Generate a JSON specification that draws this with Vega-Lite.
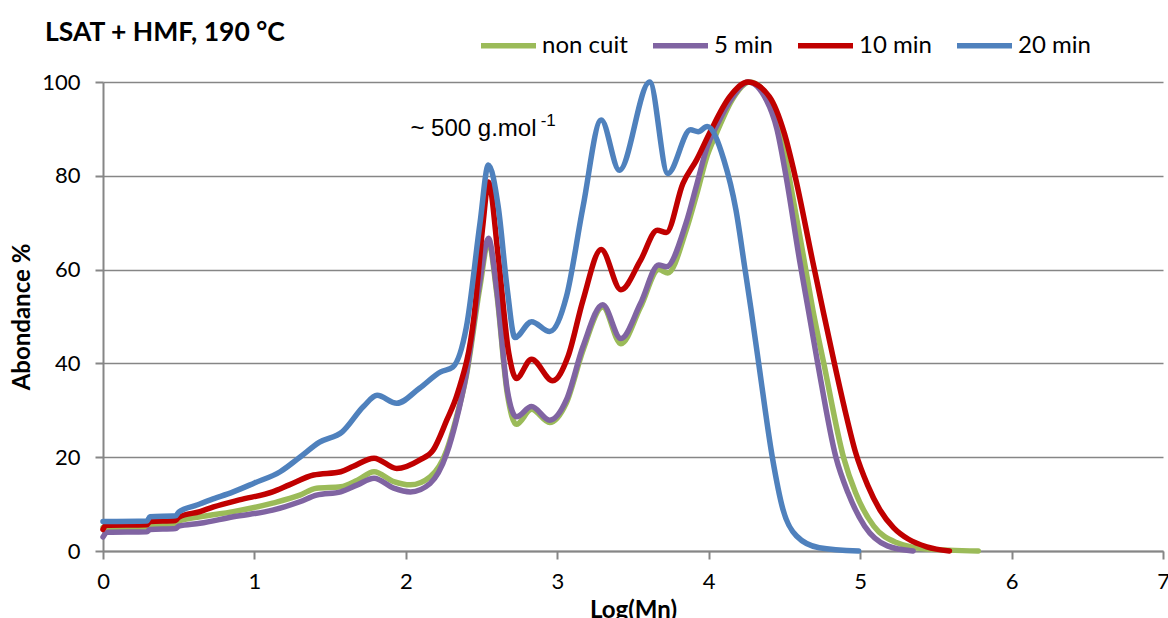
{
  "$schema": "https://vega.github.io/schema/vega-lite/v6.json",
  "width": 1060,
  "height": 469,
  "autosize": {"type": "none"},
  "padding": {"left": 103, "top": 82, "right": 5, "bottom": 67},
  "background": "white",
  "config": {"view": {"stroke": null}, "font": "Lato"},
  "title": {"text": "LSAT + HMF, 190 °C", "anchor": "start", "frame": "group", "dx": -58, "offset": 4, "dy": 35, "fontSize": 26.5, "font": "Lato", "fontWeight": "bold", "color": "black"},
  "datasets": {
    "curves": [
      {"s": "non cuit", "x": 0, "y": 5.0}, {"s": "non cuit", "x": 0.29, "y": 5.1}, {"s": "non cuit", "x": 0.31, "y": 5.6}, {"s": "non cuit", "x": 0.48, "y": 5.8}, {"s": "non cuit", "x": 0.5, "y": 6.4}, {"s": "non cuit", "x": 0.64, "y": 7.3}, {"s": "non cuit", "x": 0.86, "y": 8.4}, {"s": "non cuit", "x": 1.12, "y": 10.2}, {"s": "non cuit", "x": 1.3, "y": 11.9}, {"s": "non cuit", "x": 1.41, "y": 13.4}, {"s": "non cuit", "x": 1.57, "y": 13.7}, {"s": "non cuit", "x": 1.68, "y": 15.1}, {"s": "non cuit", "x": 1.79, "y": 16.9}, {"s": "non cuit", "x": 1.92, "y": 14.8}, {"s": "non cuit", "x": 2.03, "y": 14.1}, {"s": "non cuit", "x": 2.16, "y": 15.8}, {"s": "non cuit", "x": 2.27, "y": 21.5}, {"s": "non cuit", "x": 2.33, "y": 28}, {"s": "non cuit", "x": 2.4, "y": 37.5}, {"s": "non cuit", "x": 2.49, "y": 56.5}, {"s": "non cuit", "x": 2.545, "y": 66}, {"s": "non cuit", "x": 2.6, "y": 55}, {"s": "non cuit", "x": 2.67, "y": 33.5}, {"s": "non cuit", "x": 2.73, "y": 27}, {"s": "non cuit", "x": 2.83, "y": 30.2}, {"s": "non cuit", "x": 2.95, "y": 27.4}, {"s": "non cuit", "x": 3.06, "y": 31.6}, {"s": "non cuit", "x": 3.17, "y": 42.8}, {"s": "non cuit", "x": 3.3, "y": 52}, {"s": "non cuit", "x": 3.42, "y": 44.2}, {"s": "non cuit", "x": 3.55, "y": 52}, {"s": "non cuit", "x": 3.67, "y": 60}, {"s": "non cuit", "x": 3.73, "y": 59.3}, {"s": "non cuit", "x": 3.85, "y": 68.3}, {"s": "non cuit", "x": 3.92, "y": 76}, {"s": "non cuit", "x": 3.99, "y": 84.3}, {"s": "non cuit", "x": 4.05, "y": 89}, {"s": "non cuit", "x": 4.16, "y": 96.5}, {"s": "non cuit", "x": 4.27, "y": 100}, {"s": "non cuit", "x": 4.4, "y": 96.3}, {"s": "non cuit", "x": 4.47, "y": 90}, {"s": "non cuit", "x": 4.53, "y": 80}, {"s": "non cuit", "x": 4.63, "y": 62}, {"s": "non cuit", "x": 4.69, "y": 51}, {"s": "non cuit", "x": 4.76, "y": 40}, {"s": "non cuit", "x": 4.89, "y": 20}, {"s": "non cuit", "x": 4.97, "y": 12.4}, {"s": "non cuit", "x": 5.09, "y": 5.3}, {"s": "non cuit", "x": 5.24, "y": 1.8}, {"s": "non cuit", "x": 5.44, "y": 0.4}, {"s": "non cuit", "x": 5.78, "y": 0},

      {"s": "5 min", "x": 0, "y": 3.0}, {"s": "5 min", "x": 0.03, "y": 4.0}, {"s": "5 min", "x": 0.29, "y": 4.1}, {"s": "5 min", "x": 0.31, "y": 4.6}, {"s": "5 min", "x": 0.48, "y": 4.8}, {"s": "5 min", "x": 0.5, "y": 5.3}, {"s": "5 min", "x": 0.64, "y": 5.9}, {"s": "5 min", "x": 0.86, "y": 7.3}, {"s": "5 min", "x": 1.12, "y": 8.7}, {"s": "5 min", "x": 1.3, "y": 10.5}, {"s": "5 min", "x": 1.41, "y": 11.9}, {"s": "5 min", "x": 1.57, "y": 12.6}, {"s": "5 min", "x": 1.68, "y": 14.1}, {"s": "5 min", "x": 1.79, "y": 15.5}, {"s": "5 min", "x": 1.92, "y": 13.4}, {"s": "5 min", "x": 2.03, "y": 12.6}, {"s": "5 min", "x": 2.16, "y": 14.4}, {"s": "5 min", "x": 2.27, "y": 20.8}, {"s": "5 min", "x": 2.33, "y": 27.5}, {"s": "5 min", "x": 2.4, "y": 37.9}, {"s": "5 min", "x": 2.49, "y": 57.8}, {"s": "5 min", "x": 2.545, "y": 66.7}, {"s": "5 min", "x": 2.6, "y": 55.7}, {"s": "5 min", "x": 2.67, "y": 34.3}, {"s": "5 min", "x": 2.73, "y": 28.6}, {"s": "5 min", "x": 2.83, "y": 30.8}, {"s": "5 min", "x": 2.95, "y": 27.9}, {"s": "5 min", "x": 3.06, "y": 32.2}, {"s": "5 min", "x": 3.17, "y": 43.6}, {"s": "5 min", "x": 3.3, "y": 52.5}, {"s": "5 min", "x": 3.42, "y": 45.3}, {"s": "5 min", "x": 3.55, "y": 52.8}, {"s": "5 min", "x": 3.67, "y": 61}, {"s": "5 min", "x": 3.72, "y": 60.6}, {"s": "5 min", "x": 3.85, "y": 69.9}, {"s": "5 min", "x": 3.92, "y": 78}, {"s": "5 min", "x": 3.99, "y": 86.2}, {"s": "5 min", "x": 4.05, "y": 90.5}, {"s": "5 min", "x": 4.16, "y": 96.9}, {"s": "5 min", "x": 4.26, "y": 100}, {"s": "5 min", "x": 4.38, "y": 96.2}, {"s": "5 min", "x": 4.45, "y": 90}, {"s": "5 min", "x": 4.51, "y": 80}, {"s": "5 min", "x": 4.6, "y": 62}, {"s": "5 min", "x": 4.66, "y": 51}, {"s": "5 min", "x": 4.72, "y": 40}, {"s": "5 min", "x": 4.84, "y": 20}, {"s": "5 min", "x": 4.92, "y": 12.4}, {"s": "5 min", "x": 5.03, "y": 5.3}, {"s": "5 min", "x": 5.18, "y": 1.1}, {"s": "5 min", "x": 5.35, "y": 0},

      {"s": "10 min", "x": 0, "y": 4.6}, {"s": "10 min", "x": 0.02, "y": 5.5}, {"s": "10 min", "x": 0.29, "y": 5.6}, {"s": "10 min", "x": 0.31, "y": 6.3}, {"s": "10 min", "x": 0.48, "y": 6.5}, {"s": "10 min", "x": 0.5, "y": 7.2}, {"s": "10 min", "x": 0.64, "y": 8.4}, {"s": "10 min", "x": 0.73, "y": 9.4}, {"s": "10 min", "x": 0.9, "y": 10.9}, {"s": "10 min", "x": 1.12, "y": 12.6}, {"s": "10 min", "x": 1.23, "y": 14.1}, {"s": "10 min", "x": 1.39, "y": 16.2}, {"s": "10 min", "x": 1.57, "y": 16.9}, {"s": "10 min", "x": 1.65, "y": 18.0}, {"s": "10 min", "x": 1.79, "y": 19.8}, {"s": "10 min", "x": 1.94, "y": 17.6}, {"s": "10 min", "x": 2.09, "y": 19.4}, {"s": "10 min", "x": 2.18, "y": 21.5}, {"s": "10 min", "x": 2.27, "y": 27.9}, {"s": "10 min", "x": 2.34, "y": 33.5}, {"s": "10 min", "x": 2.45, "y": 50}, {"s": "10 min", "x": 2.51, "y": 69.9}, {"s": "10 min", "x": 2.545, "y": 78.7}, {"s": "10 min", "x": 2.61, "y": 62.8}, {"s": "10 min", "x": 2.68, "y": 42.1}, {"s": "10 min", "x": 2.73, "y": 36.8}, {"s": "10 min", "x": 2.83, "y": 40.9}, {"s": "10 min", "x": 2.97, "y": 36.3}, {"s": "10 min", "x": 3.07, "y": 41.4}, {"s": "10 min", "x": 3.17, "y": 53.5}, {"s": "10 min", "x": 3.29, "y": 64.3}, {"s": "10 min", "x": 3.42, "y": 55.7}, {"s": "10 min", "x": 3.55, "y": 62}, {"s": "10 min", "x": 3.66, "y": 68.4}, {"s": "10 min", "x": 3.72, "y": 67.9}, {"s": "10 min", "x": 3.83, "y": 78.4}, {"s": "10 min", "x": 3.92, "y": 83.4}, {"s": "10 min", "x": 4.01, "y": 89.4}, {"s": "10 min", "x": 4.14, "y": 96.9}, {"s": "10 min", "x": 4.26, "y": 100}, {"s": "10 min", "x": 4.4, "y": 96.9}, {"s": "10 min", "x": 4.5, "y": 89}, {"s": "10 min", "x": 4.57, "y": 80}, {"s": "10 min", "x": 4.685, "y": 62}, {"s": "10 min", "x": 4.76, "y": 50.5}, {"s": "10 min", "x": 4.83, "y": 40}, {"s": "10 min", "x": 4.9, "y": 30}, {"s": "10 min", "x": 4.97, "y": 21}, {"s": "10 min", "x": 5.05, "y": 14}, {"s": "10 min", "x": 5.13, "y": 8.8}, {"s": "10 min", "x": 5.22, "y": 5.0}, {"s": "10 min", "x": 5.32, "y": 2.5}, {"s": "10 min", "x": 5.44, "y": 0.9}, {"s": "10 min", "x": 5.59, "y": 0},

      {"s": "20 min", "x": 0, "y": 6.3}, {"s": "20 min", "x": 0.29, "y": 6.4}, {"s": "20 min", "x": 0.31, "y": 7.3}, {"s": "20 min", "x": 0.48, "y": 7.5}, {"s": "20 min", "x": 0.5, "y": 8.3}, {"s": "20 min", "x": 0.62, "y": 9.8}, {"s": "20 min", "x": 0.71, "y": 10.9}, {"s": "20 min", "x": 0.86, "y": 12.6}, {"s": "20 min", "x": 1.0, "y": 14.5}, {"s": "20 min", "x": 1.17, "y": 16.9}, {"s": "20 min", "x": 1.3, "y": 20.0}, {"s": "20 min", "x": 1.43, "y": 23.2}, {"s": "20 min", "x": 1.58, "y": 25.4}, {"s": "20 min", "x": 1.72, "y": 30.8}, {"s": "20 min", "x": 1.81, "y": 33.2}, {"s": "20 min", "x": 1.94, "y": 31.5}, {"s": "20 min", "x": 2.09, "y": 34.7}, {"s": "20 min", "x": 2.23, "y": 38.2}, {"s": "20 min", "x": 2.31, "y": 39.2}, {"s": "20 min", "x": 2.4, "y": 47.8}, {"s": "20 min", "x": 2.49, "y": 70}, {"s": "20 min", "x": 2.545, "y": 82.3}, {"s": "20 min", "x": 2.61, "y": 73.4}, {"s": "20 min", "x": 2.67, "y": 55.7}, {"s": "20 min", "x": 2.72, "y": 45.5}, {"s": "20 min", "x": 2.83, "y": 48.9}, {"s": "20 min", "x": 2.95, "y": 46.8}, {"s": "20 min", "x": 3.06, "y": 54.2}, {"s": "20 min", "x": 3.17, "y": 73.4}, {"s": "20 min", "x": 3.29, "y": 91.9}, {"s": "20 min", "x": 3.41, "y": 81.2}, {"s": "20 min", "x": 3.61, "y": 100}, {"s": "20 min", "x": 3.73, "y": 80.5}, {"s": "20 min", "x": 3.88, "y": 89.8}, {"s": "20 min", "x": 3.93, "y": 89.4}, {"s": "20 min", "x": 3.99, "y": 90.5}, {"s": "20 min", "x": 4.1, "y": 83.4}, {"s": "20 min", "x": 4.18, "y": 72.7}, {"s": "20 min", "x": 4.24, "y": 60}, {"s": "20 min", "x": 4.28, "y": 51.4}, {"s": "20 min", "x": 4.33, "y": 40}, {"s": "20 min", "x": 4.42, "y": 20}, {"s": "20 min", "x": 4.49, "y": 8.9}, {"s": "20 min", "x": 4.58, "y": 3.2}, {"s": "20 min", "x": 4.73, "y": 0.7}, {"s": "20 min", "x": 4.99, "y": 0}
    ],
    "notes": [
      {"x": 2.03, "y": 88.5, "t": "~ 500 g.mol", "k": "main"}
    ],
    "sups": [
      {"x": 2.89, "y": 90.6, "t": "-1", "k": "sup"}
    ]
  },
  "layer": [
    {
      "data": {"name": "curves"},
      "mark": {"type": "line", "strokeWidth": 5.5, "interpolate": "monotone", "strokeCap": "round", "strokeJoin": "round"},
      "encoding": {
        "x": {"field": "x", "type": "quantitative", "scale": {"domain": [0, 7], "nice": false},
          "axis": {"values": [0, 1, 2, 3, 4, 5, 6, 7], "format": "d", "grid": false, "domainColor": "#868686", "domainWidth": 2, "tickColor": "#868686", "tickWidth": 2, "tickSize": 8, "labelFontSize": 22, "labelFont": "Lato", "labelColor": "black", "labelPadding": 12, "labelFlush": false, "title": "Log(Mn)", "titleFont": "Lato", "titleFontSize": 24, "titleFontWeight": "bold", "titleColor": "black", "titleY": 66, "titleBaseline": "alphabetic"}},
        "y": {"field": "y", "type": "quantitative", "scale": {"domain": [0, 100], "nice": false},
          "axis": {"values": [0, 20, 40, 60, 80, 100], "grid": true, "gridColor": "#868686", "gridWidth": 1.6, "domainColor": "#868686", "domainWidth": 2, "tickColor": "#868686", "tickWidth": 2, "tickSize": 8, "labelFontSize": 22, "labelFont": "Lato", "labelColor": "black", "labelPadding": 15, "title": "Abondance %", "titleFont": "Lato", "titleFontSize": 24, "titleFontWeight": "bold", "titleColor": "black", "titleX": -81, "titleBaseline": "middle"}},
        "color": {"field": "s", "type": "nominal", "sort": ["non cuit", "5 min", "10 min", "20 min"],
          "scale": {"domain": ["non cuit", "5 min", "10 min", "20 min"], "range": ["#9BBB59", "#8064A2", "#C00000", "#4F81BD"]},
          "legend": {"orient": "none", "legendX": 375, "legendY": -67, "direction": "horizontal", "title": null, "symbolType": "stroke", "symbolSize": 3025, "symbolStrokeWidth": 5.5, "labelFontSize": 24, "labelFont": "Lato", "labelColor": "black", "columnPadding": 14, "labelOffset": 3}}
      }
    },
    {
      "data": {"name": "notes"},
      "mark": {"type": "text", "align": "left", "baseline": "alphabetic", "font": "Liberation Sans", "fontSize": 24, "color": "black"},
      "encoding": {
        "x": {"field": "x", "type": "quantitative"},
        "y": {"field": "y", "type": "quantitative"},
        "text": {"field": "t"}
      }
    },
    {
      "data": {"name": "sups"},
      "mark": {"type": "text", "align": "left", "baseline": "alphabetic", "font": "Liberation Sans", "fontSize": 17, "color": "black"},
      "encoding": {
        "x": {"field": "x", "type": "quantitative"},
        "y": {"field": "y", "type": "quantitative"},
        "text": {"field": "t"}
      }
    }
  ]
}
